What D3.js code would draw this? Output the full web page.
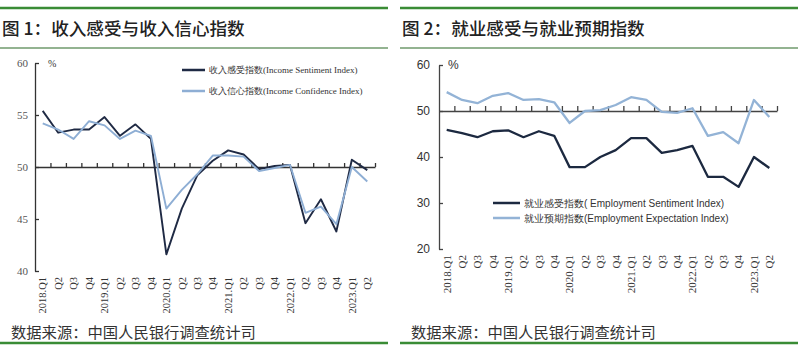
<!DOCTYPE html>
<html>
<head>
<meta charset="utf-8">
<script src="https://cdn.jsdelivr.net/npm/d3@7"></script>
<style>
body{margin:0;background:#fff}
svg{display:block}
</style>
</head>
<body>
<svg width="800" height="351"></svg>
<script>
// quarter labels shared by both charts
let quarters=['2018.Q1','Q2','Q3','Q4','2019.Q1','Q2','Q3','Q4','2020.Q1','Q2','Q3','Q4',
  '2021.Q1','Q2','Q3','Q4','2022.Q1','Q2','Q3','Q4','2023.Q1','Q2']

// chart 1
let incomeSentiment=[55.4,53.3,53.6,53.6,54.8,53.0,54.1,52.7,41.6,46.0,49.2,50.6,51.6,51.2,49.8,50.1,50.2,44.6,46.9,43.8,50.7,49.7]
let incomeConfidence=[54.2,53.6,52.7,54.4,54.0,52.7,53.5,53.0,46.0,47.8,49.3,51.1,51.1,51.0,49.6,49.9,50.2,45.6,46.2,44.5,50.0,48.6]
let yTicks1=[40,45,50,55,60]
let legend1=['收入感受指数(Income Sentiment Index)','收入信心指数(Income Confidence Index)']

// chart 2
let empSentiment=[45.9,45.2,44.3,45.6,45.8,44.3,45.6,44.6,37.8,37.8,40.0,41.5,44.1,44.1,40.9,41.5,42.4,35.7,35.7,33.5,40.0,37.6]
let empExpectation=[54.1,52.4,51.7,53.3,53.9,52.4,52.6,51.9,47.4,50.0,50.2,51.3,53.0,52.4,49.8,49.6,50.6,44.6,45.4,43.0,52.4,48.7]
let yTicks2=[20,30,40,50,60]
let legend2=['就业感受指数( Employment Sentiment Index)','就业预期指数(Employment Expectation Index)']

let titles=['图 1：收入感受与收入信心指数','图 2：就业感受与就业预期指数']
let source='数据来源：中国人民银行调查统计司'

let svg=d3.select('svg')
let cjk='"Noto Sans CJK SC", sans-serif'
let green='#3a8c35'

let drawFrame=(x0,w,title)=>{
  svg.append('line').attr('x1',x0).attr('x2',x0+w).attr('y1',8).attr('y2',8)
    .attr('stroke',green).attr('stroke-width',2.5)
  svg.append('text').attr('x',x0+2).attr('y',35).text(title)
    .style('font-family',cjk).style('font-size','17.6px').style('font-weight',500).attr('fill','#222')
  svg.append('line').attr('x1',x0).attr('x2',x0+w).attr('y1',48).attr('y2',48)
    .attr('stroke','#6f9a6c').attr('stroke-width',1.5)
  svg.append('text').attr('x',x0+11).attr('y',338).text(source)
    .style('font-family',cjk).style('font-size','15.3px').attr('fill','#333')
  svg.append('line').attr('x1',x0).attr('x2',x0+w).attr('y1',343).attr('y2',343)
    .attr('stroke',green).attr('stroke-width',2.5)
}

let drawChart=(o)=>{
  let g=svg.append('g')
  let idx=d3.range(quarters.length)
  let xScale=d3.scaleBand().domain(idx).range([o.left,o.right]).padding(0)
  let tickScale=d3.scaleLinear().domain([0,quarters.length]).range([o.left,o.right])
  let yScale=d3.scaleLinear().domain(o.domain).range([o.bottom,o.top])

  // y axis
  let yAxis=d3.axisLeft(yScale).tickValues(o.yTicks).tickSizeInner(-4).tickSizeOuter(0).tickPadding(o.yPad)
  let ya=g.append('g').attr('transform','translate('+o.left+',0)').call(yAxis)
  ya.selectAll('text').style('font-family',o.tickFont).style('font-size',o.tickSize).attr('fill',o.tickColor)
  ya.selectAll('path,line').attr('stroke',o.axisColor).attr('stroke-width',1.3)

  // baseline at 50 with small ticks between quarters
  let xAxis=d3.axisTop(tickScale).tickValues(d3.range(1,quarters.length+1)).tickFormat('').tickSizeInner(o.xTick).tickSizeOuter(0)
  let xa=g.append('g').attr('transform','translate(0,'+yScale(50)+')').call(xAxis)
  xa.selectAll('path,line').attr('stroke',o.axisColor).attr('stroke-width',1.3)

  // rotated quarter labels
  let lab=g.append('g').attr('transform','translate(0,'+o.bottom+')')
    .call(d3.axisBottom(xScale).tickSize(0).tickPadding(0).tickFormat(i=>quarters[i]))
  lab.select('.domain').remove()
  lab.selectAll('text')
    .attr('transform','rotate(-90)').attr('text-anchor','end')
    .attr('x',-6).attr('y',0).attr('dy','0.35em')
    .style('font-family','"Liberation Serif", serif').style('font-size',o.xLabSize).attr('fill','#333')

  g.append('text').attr('x',o.pctX).attr('y',o.top+4).text('%')
    .style('font-family',o.tickFont).style('font-size',o.pctSize).attr('fill','#333')

  let line=d3.line().x((d,i)=>xScale(i)+xScale.bandwidth()/2).y(d=>yScale(d))
  o.series.forEach((s,k)=>{
    g.append('path').datum(s).attr('d',line).attr('fill','none')
      .attr('stroke',o.colors[k]).attr('stroke-width',o.lineW).attr('stroke-linejoin','round')
  })

  // legend
  o.legend.forEach((t,k)=>{
    let ly=o.legY+k*o.legGap
    g.append('line').attr('x1',o.legX).attr('x2',o.legX+o.legLen).attr('y1',ly).attr('y2',ly)
      .attr('stroke',o.colors[k]).attr('stroke-width',2.5)
    g.append('text').attr('x',o.legX+o.legLen+4).attr('y',ly).attr('dy','0.35em').text(t)
      .style('font-family',o.legFont).style('font-size',o.legSize).attr('fill','#333')
  })
}

drawFrame(0,388,titles[0])
drawFrame(400,398,titles[1])

drawChart({left:35,right:375,top:63,bottom:271,domain:[40,60],yTicks:yTicks1,yPad:7,
  tickFont:'"Liberation Serif", serif',tickSize:'11px',tickColor:'#555',axisColor:'#333',xTick:4,
  xLabSize:'10.5px',pctX:48,pctSize:'10px',series:[incomeSentiment,incomeConfidence],
  colors:['#1f2a44','#8eaed4'],lineW:1.9,legend:legend1,legX:182,legY:70,legGap:21,legLen:23,
  legFont:'"Liberation Serif", serif',legSize:'9px'})

drawChart({left:439,right:777,top:65,bottom:249,domain:[20,60],yTicks:yTicks2,yPad:9,
  tickFont:'"Liberation Sans", Arial, sans-serif',tickSize:'12px',tickColor:'#333',axisColor:'#444',xTick:5,
  xLabSize:'11px',pctX:448,pctSize:'12px',series:[empSentiment,empExpectation],
  colors:['#1c2940','#93b3d6'],lineW:2.3,legend:legend2,legX:493,legY:203,legGap:15,legLen:27,
  legFont:'"Liberation Sans", Arial, sans-serif',legSize:'10px'})
</script>
</body>
</html>
